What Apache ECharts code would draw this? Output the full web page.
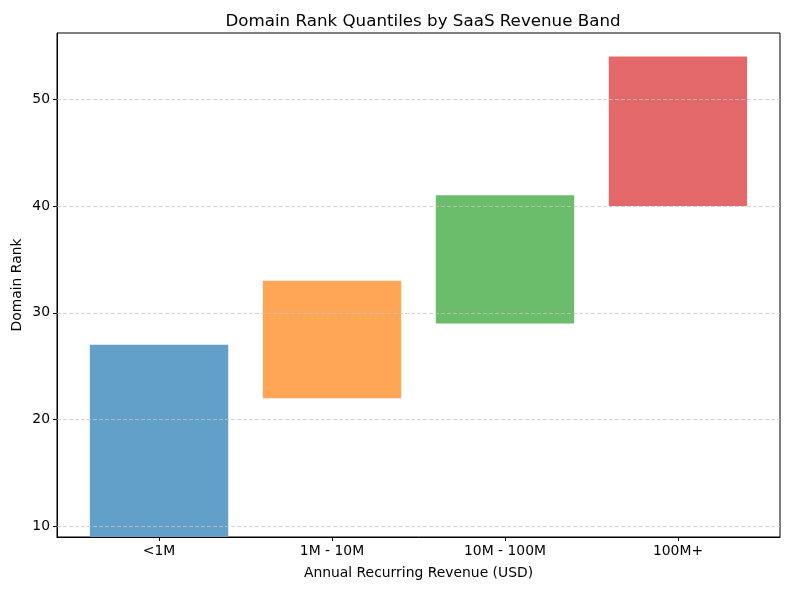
<!DOCTYPE html>
<html>
<head>
<meta charset="utf-8">
<script src="https://cdn.jsdelivr.net/npm/echarts@6/dist/echarts.min.js"></script>
<style>html,body{margin:0;padding:0;background:#fff}#c{width:790px;height:590px}</style>
</head>
<body>
<div id="c"></div>
<script>
const categories = ['<1M', '1M - 10M', '10M - 100M', '100M+'];
const lows = [9, 22, 29, 40];
const highs = [27, 33, 41, 54];
const colors = ['#62a0ca', '#ffa556', '#6bbd6b', '#e36869'];
const yTicks = [10, 20, 30, 40, 50];

const FONT = 'DejaVu Sans';
const chart = echarts.init(document.getElementById('c'), null, {renderer: 'canvas'});
const barData = categories.map((c, i) => [i, lows[i], highs[i]]);

chart.setOption({
  animation: false,
  backgroundColor: '#fff',
  title: {
    text: 'Domain Rank Quantiles by SaaS Revenue Band',
    left: 418, textAlign: 'center', top: 8,
    textStyle: {fontFamily: FONT, fontSize: 16.7, fontWeight: 'normal', color: '#000'}
  },
  grid: {left: 57, right: 10, top: 33, bottom: 53, outerBoundsMode: 'none', containLabel: false,
    show: true, borderColor: '#000', borderWidth: 1, backgroundColor: 'transparent'},
  xAxis: {
    type: 'value', min: -0.59, max: 3.59,
    name: 'Annual Recurring Revenue (USD)', nameLocation: 'middle', nameGap: 29,
    nameMoveOverlap: false,
    nameTextStyle: {fontFamily: FONT, fontSize: 13.9, color: '#000'},
    axisLine: {show: true, onZero: false, lineStyle: {color: '#000'}},
    axisTick: {show: true, length: 4, lineStyle: {color: '#000'}, customValues: [0, 1, 2, 3]},
    axisLabel: {fontFamily: FONT, fontSize: 13.9, color: '#000', margin: 7, customValues: [0, 1, 2, 3],
      formatter: v => categories[Math.round(v)]},
    splitLine: {show: false}
  },
  yAxis: {
    type: 'value', min: 9, max: 56.2,
    name: 'Domain Rank', nameLocation: 'middle', nameGap: 33, nameRotate: 90,
    nameMoveOverlap: false,
    nameTextStyle: {fontFamily: FONT, fontSize: 13.9, color: '#000'},
    axisLine: {show: true, onZero: false, lineStyle: {color: '#000'}},
    axisTick: {show: true, length: 4, lineStyle: {color: '#000'}, customValues: yTicks},
    axisLabel: {fontFamily: FONT, fontSize: 13.9, color: '#000', margin: 7, customValues: yTicks},
    splitLine: {show: false}
  },
  series: [
    {
      type: 'custom',
      data: barData,
      encode: {x: 0, y: [1, 2]},
      z: 2,
      renderItem: function (params, api) {
        const i = api.value(0);
        const p1 = api.coord([i - 0.4, api.value(2)]);
        const p2 = api.coord([i + 0.4, api.value(1)]);
        const rect = echarts.graphic.clipRectByRect({
          x: p1[0], y: p1[1], width: p2[0] - p1[0], height: p2[1] - p1[1]
        }, {x: params.coordSys.x, y: params.coordSys.y, width: params.coordSys.width, height: params.coordSys.height});
        return {type: 'rect', shape: rect, style: {fill: colors[i]}};
      }
    },
    {
      type: 'line',
      data: [],
      z: 5,
      markLine: {
        silent: true, symbol: 'none', label: {show: false},
        lineStyle: {color: 'rgba(200,200,200,0.75)', type: [4, 2], width: 1},
        data: yTicks.map(v => ({yAxis: v}))
      }
    }
  ]
});
</script>
</body>
</html>
